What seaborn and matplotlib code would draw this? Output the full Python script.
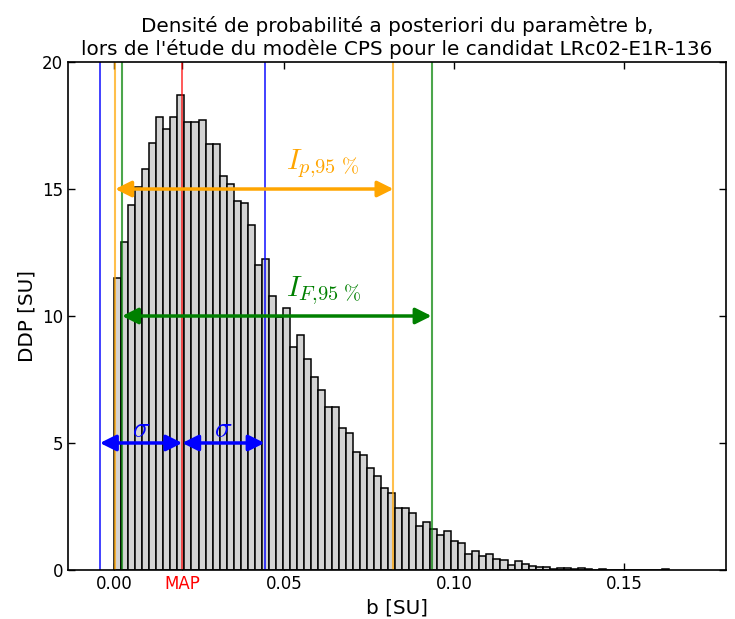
import numpy as np
import pandas as pd
import matplotlib
matplotlib.use("Agg")
import matplotlib.pyplot as plt
import seaborn as sns

# Posterior density of parameter b (normalised histogram, one value per bin)
density = [
    11.48, 12.90, 14.37, 15.08, 15.77, 16.82, 17.82, 17.37, 17.82, 18.70,
    17.65, 17.63, 17.72, 16.78, 16.76, 15.51, 15.20, 14.53, 14.43, 13.57,
    12.01, 12.24, 10.80, 9.97, 10.33, 8.77, 9.24, 8.29, 7.61, 7.07,
    6.43, 6.43, 5.60, 5.38, 4.63, 4.53, 4.00, 3.70, 3.24, 3.02,
    2.45, 2.45, 2.23, 1.73, 1.90, 1.60, 1.38, 1.52, 1.15, 1.06,
    0.62, 0.74, 0.55, 0.62, 0.45, 0.39, 0.21, 0.35, 0.22, 0.17,
    0.13, 0.13, 0.04, 0.07, 0.07, 0.02, 0.08, 0.02, 0.00, 0.04,
    0.00, 0.00, 0.00, 0.00, 0.00, 0.00, 0.00, 0.00, 0.04,
]
b_min = 0.0001
b_bin_width = 0.002065

# Summary statistics of the posterior
b_map = 0.0201
sigma = 0.0242
ip95 = (0.0004, 0.0822)   # shortest 95 % interval
if95 = (0.0024, 0.0934)   # Fisher-like 95 % interval

x_ticks = [0.0, b_map, 0.05, 0.10, 0.15]
x_tick_labels = ["0.00", "MAP", "0.05", "0.10", "0.15"]
y_ticks = [0, 5, 10, 15, 20]

sns.set_style("ticks")
plt.rcParams.update({
    "font.family": ["DejaVu Sans"],
    "mathtext.fontset": "cm",
    "text.color": "black",
    "axes.labelcolor": "black",
    "xtick.color": "black",
    "ytick.color": "black",
    "xtick.direction": "in",
    "ytick.direction": "in",
    "xtick.top": True,
    "ytick.right": True,
    "xtick.major.size": 5,
    "ytick.major.size": 5,
    "xtick.major.width": 1,
    "ytick.major.width": 1,
    "xtick.labelsize": 12,
    "ytick.labelsize": 12,
    "axes.edgecolor": "black",
    "axes.linewidth": 1.2,
})

edges = [b_min + b_bin_width * i for i in range(len(density) + 1)]
centers = [0.5 * (edges[i] + edges[i + 1]) for i in range(len(density))]
df = pd.DataFrame({"b": centers, "ddp": density})

fig = plt.figure(figsize=(7.35, 6.19), dpi=100)
ax = fig.add_axes([0.0925, 0.0792, 0.8953, 0.8206])

sns.histplot(data=df, x="b", weights="ddp", bins=edges, stat="count",
             color="#d3d3d3", edgecolor="black", linewidth=1.1, alpha=1.0,
             ax=ax)

# Vertical markers
ax.axvline(b_map - sigma, color="blue", lw=1.3, alpha=0.8)
ax.axvline(b_map + sigma, color="blue", lw=1.3, alpha=0.8)
ax.axvline(ip95[0], color="orange", lw=1.5, alpha=0.7)
ax.axvline(ip95[1], color="orange", lw=1.5, alpha=0.7)
ax.axvline(if95[0], color="green", lw=1.5, alpha=0.7)
ax.axvline(if95[1], color="green", lw=1.5, alpha=0.7)
ax.axvline(b_map, color="red", lw=1.3, alpha=0.7)

def double_arrow(x0, x1, y, color):
    ax.annotate("", xy=(x1, y), xytext=(x0, y),
                arrowprops=dict(arrowstyle="<|-|>", color=color, lw=2.5,
                                mutation_scale=24, shrinkA=0, shrinkB=0))

double_arrow(ip95[0], ip95[1], 15, "orange")
double_arrow(if95[0], if95[1], 10, "green")
double_arrow(b_map - sigma, b_map, 5, "blue")
double_arrow(b_map, b_map + sigma, 5, "blue")

ax.text(0.0505, 15.8, r"$I_{p{,}95\ \%}$", color="orange", fontsize=21,
        ha="left", va="baseline")
ax.text(0.0505, 10.8, r"$I_{F{,}95\ \%}$", color="green", fontsize=21,
        ha="left", va="baseline")
ax.text(b_map - sigma / 2, 5.25, r"$\sigma$", color="blue", fontsize=21,
        ha="center", va="baseline")
ax.text(b_map + sigma / 2, 5.25, r"$\sigma$", color="blue", fontsize=21,
        ha="center", va="baseline")

ax.set_xlim(-0.0135, 0.18)
ax.set_ylim(0, 20)
ax.set_xticks(x_ticks)
ax.set_xticklabels(x_tick_labels)
ax.get_xticklabels()[1].set_color("red")
ax.set_yticks(y_ticks)
for s in ax.spines.values():
    s.set_visible(True)

ax.set_xlabel("b [SU]", fontsize=14.4)
ax.set_ylabel("DDP [SU]", fontsize=14.4)
ax.set_title("Densité de probabilité a posteriori du paramètre b,\n"
             "lors de l'étude du modèle CPS pour le candidat LRc02-E1R-136",
             fontsize=14.4, pad=5)

fig.savefig("out.png", dpi=100, facecolor="white")
